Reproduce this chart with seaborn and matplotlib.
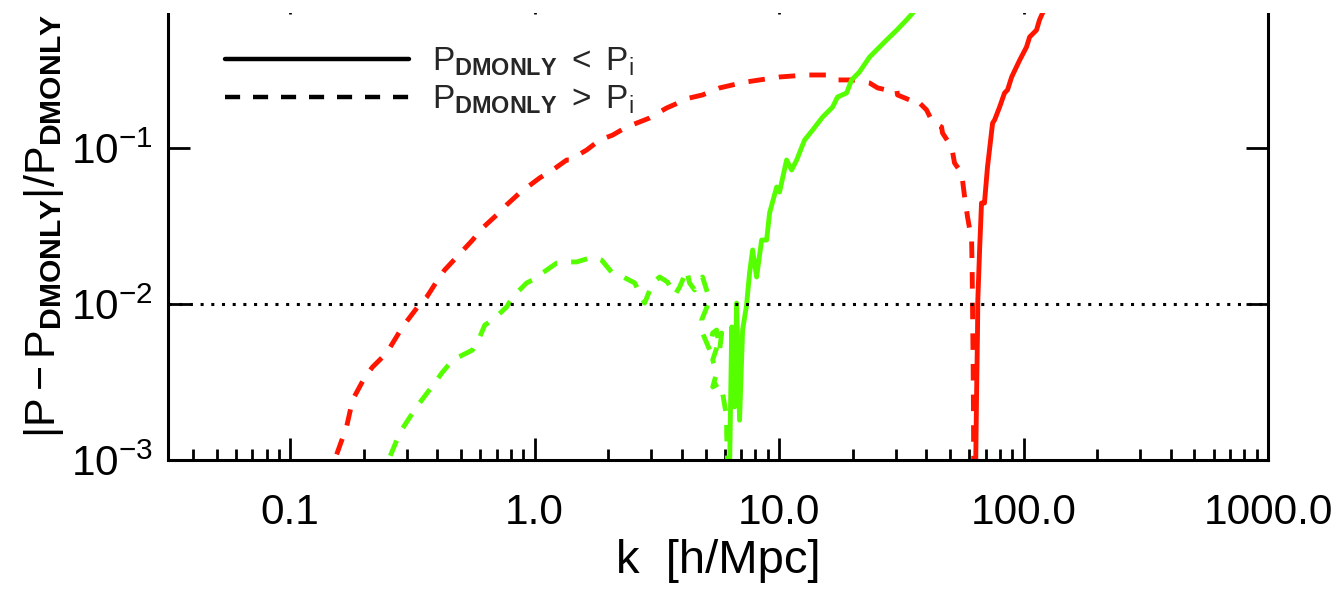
import pandas as pd
import seaborn as sns
import matplotlib.pyplot as plt
import matplotlib.ticker as mticker
from matplotlib.lines import Line2D
from matplotlib.patches import Rectangle

# valeurs
red_dash_k = [0.145, 0.152, 0.170, 0.180, 0.202, 0.217, 0.248, 0.288, 0.332, 0.362, 0.401,
              0.428, 0.480, 0.557, 0.612, 0.699, 0.768, 0.868, 1.048, 1.185, 1.352,
              1.39, 1.632, 1.845, 2.085, 2.377, 2.688, 2.953, 3.465, 4.30, 4.86,
              5.71, 6.45, 7.36, 8.32, 10.04, 12.95, 16.1, 17.34, 19.99, 23.45,
              25.3, 27.5, 30.3, 30.5, 34.2, 35.8, 40.1, 42.4, 46.2, 46.6,
              50.8, 52.2, 55.8, 57.4, 59.0, 61.3, 61.6, 61.8, 62.0, 62.2,
              62.4, 62.5, 62.8]
red_dash_p = [0.0007, 0.001, 0.00163, 0.00243, 0.0034, 0.00394, 0.00485, 0.00713, 0.00957, 0.0111, 0.01426,
              0.0165, 0.0200, 0.0257, 0.0307, 0.0372, 0.0432, 0.0515, 0.0643, 0.0723, 0.0838,
              0.0838, 0.0971, 0.1125, 0.121, 0.1364, 0.1469, 0.1557, 0.1805, 0.2093, 0.2188,
              0.2427, 0.2537, 0.2652, 0.2731, 0.2853, 0.2938, 0.2938, 0.2731, 0.2731, 0.2611,
              0.2427, 0.2357, 0.2357, 0.2188, 0.2032, 0.2093, 0.1754, 0.1469, 0.1364, 0.1248,
              0.1015, 0.0801, 0.0691, 0.0485, 0.0361, 0.0257, 0.01727, 0.0106, 0.00652, 0.00394,
              0.00189, 0.001, 0.0005]

red_solid_k = [63.4, 64.2, 64.8, 65.0, 66.1, 67.3, 69.2, 71.2, 74.7, 76.1, 79.8,
               83.6, 86.0, 89.4, 96.3, 102.8, 105.9, 113.0, 116.2, 119.6, 134.0]
red_solid_p = [0.0005, 0.00243, 0.00652, 0.0106, 0.0222, 0.0444, 0.0444, 0.0755, 0.1445, 0.151, 0.183,
               0.2253, 0.2357, 0.2853, 0.3646, 0.4436, 0.515, 0.570, 0.662, 0.733, 1.05]

green_dash_k = [0.23, 0.2805, 0.2994, 0.329, 0.390, 0.417, 0.462, 0.557, 0.596, 0.625,
                0.673, 0.768, 0.813, 0.927, 0.981, 1.119, 1.230, 1.390, 1.485, 1.727,
                1.880, 2.064, 2.228, 2.564, 2.688, 2.818, 3.039, 3.246, 3.50, 3.74,
                3.92, 4.19, 4.30, 4.51, 4.64, 4.86, 5.05, 5.20, 4.82, 4.86,
                5.20, 5.35, 5.55, 5.71, 5.82, 5.35, 5.55, 5.35, 5.71, 5.87,
                6.10, 6.10, 6.15, 6.2]
green_dash_p = [0.0007, 0.00149, 0.00175, 0.00219, 0.00312, 0.00361, 0.00438, 0.00507, 0.00614, 0.00733,
                0.00789, 0.00957, 0.0111, 0.01365, 0.01426, 0.0165, 0.0183, 0.0186, 0.0186, 0.0200,
                0.0191, 0.0160, 0.0153, 0.01365, 0.01178, 0.01014, 0.01365, 0.0149, 0.0138, 0.01142,
                0.01286, 0.0165, 0.01365, 0.0123, 0.01365, 0.0149, 0.0123, 0.0106, 0.00789, 0.00652,
                0.00507, 0.00652, 0.00681, 0.00507, 0.00652, 0.00438, 0.00361, 0.00294, 0.00312, 0.00269,
                0.00189, 0.00149, 0.001, 0.0005]

green_solid_k = [6.15, 6.28, 6.40, 6.58, 6.70, 6.89, 7.09, 7.36, 7.57, 7.79,
                 8.09, 8.48, 8.89, 9.14, 9.77, 10.04, 10.73, 11.25, 11.80, 12.71,
                 13.71, 15.07, 16.55, 17.34, 18.88, 19.80, 21.3, 23.45, 25.05, 27.5,
                 30.3, 33.2, 35.2, 41.0]
green_solid_p = [0.0005, 0.001, 0.00713, 0.00219, 0.01014, 0.0018, 0.00681, 0.00986, 0.0158, 0.0222,
                 0.0149, 0.0257, 0.0257, 0.0383, 0.0562, 0.0522, 0.0838, 0.0723, 0.0838, 0.1125,
                 0.1303, 0.158, 0.183, 0.2123, 0.2253, 0.2731, 0.307, 0.383, 0.425, 0.492,
                 0.570, 0.662, 0.733, 1.05]

x_ticks = [0.1, 1.0, 10.0, 100.0, 1000.0]
x_tick_labels = ['0.1', '1.0', '10.0', '100.0', '1000.0']
legend_labels = [r'$P_{\mathbf{DMONLY}}\ <\ P_i$', r'$P_{\mathbf{DMONLY}}\ >\ P_i$']

sns.set_theme(style='white')
plt.rcParams['font.family'] = ['Liberation Sans', 'DejaVu Sans']
plt.rcParams['mathtext.fontset'] = 'custom'
plt.rcParams['mathtext.rm'] = 'Liberation Sans'
plt.rcParams['mathtext.it'] = 'Liberation Sans:italic'
plt.rcParams['mathtext.bf'] = 'Liberation Sans:bold'
plt.rcParams['mathtext.default'] = 'regular'

fig = plt.figure(figsize=(13.44, 5.89), dpi=100)
ax = fig.add_axes([168 / 1344, 1 - 460 / 589, 1100 / 1344, 468 / 589])

red = '#ff1500'
green = '#55ff00'
dash = (3.4, 2.9)

series = [
    (red_dash_k, red_dash_p, red, True),
    (red_solid_k, red_solid_p, red, False),
    (green_dash_k, green_dash_p, green, True),
    (green_solid_k, green_solid_p, green, False),
]
for k, p, col, dashed in series:
    df = pd.DataFrame({'k': k, 'p': p})
    sns.lineplot(data=df, x='k', y='p', sort=False, estimator=None,
                 color=col, lw=3.5, ax=ax)
    if dashed:
        ax.lines[-1].set_dashes(dash)

ax.axhline(0.01, color='black', lw=2.2, ls=(0, (1, 2.5)))

ax.set_xscale('log')
ax.set_yscale('log')
ax.set_xlim(10 ** -1.5, 1000)
ax.set_ylim(1e-3, 1)

ax.xaxis.set_major_locator(mticker.FixedLocator(x_ticks))
ax.xaxis.set_major_formatter(mticker.FixedFormatter(x_tick_labels))
ax.xaxis.set_minor_locator(mticker.LogLocator(base=10, subs=range(2, 10)))
ax.xaxis.set_minor_formatter(mticker.NullFormatter())
ax.yaxis.set_major_locator(mticker.LogLocator(base=10, numticks=10))
ax.yaxis.set_minor_locator(mticker.NullLocator())

ax.tick_params(which='both', direction='in', top=True, right=True, bottom=True, left=True,
               width=2, color='black', labelsize=30.5, labelcolor='black')
ax.tick_params(which='major', length=16)
ax.tick_params(which='minor', length=8)
ax.tick_params(axis='x', pad=24)
ax.tick_params(axis='y', pad=11)
for s in ax.spines.values():
    s.set_linewidth(2.2)
    s.set_color('black')

ax.set_xlabel('k  [h/Mpc]', fontsize=34, color='black', labelpad=4)
ax.set_ylabel(r'$|P-P_{\mathbf{DMONLY}}|/P_{\mathbf{DMONLY}}$', fontsize=31, color='black')
ax.yaxis.set_label_coords(-0.093, 0.5)

handles = [Line2D([], [], color='black', lw=3.2),
           Line2D([], [], color='black', lw=3.2, dashes=(3.4, 2.9))]
ax.legend(handles, legend_labels, loc='upper left', bbox_to_anchor=(0.052, 0.885),
          frameon=False, fontsize=24, handlelength=5.5, handletextpad=0.7,
          labelspacing=0.15, borderpad=0, borderaxespad=0)

# bande blanche en haut (figure coupée)
fig.add_artist(Rectangle((0, 1 - 13 / 589), 1, 13 / 589, transform=fig.transFigure,
                         facecolor='white', edgecolor='none', zorder=100))

fig.savefig('out.png', dpi=100)
